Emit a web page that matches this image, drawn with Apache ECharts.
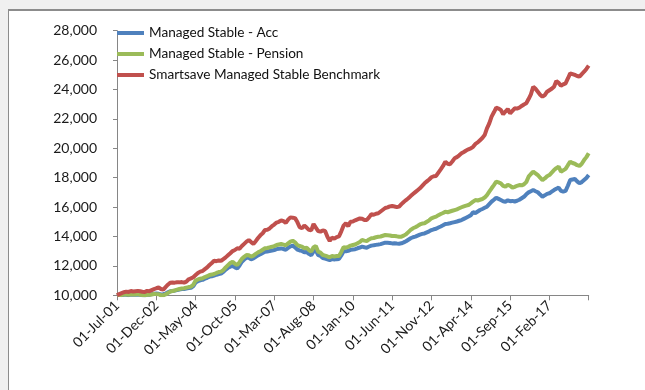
<!DOCTYPE html>
<html>
<head>
<meta charset="utf-8">
<script src="https://cdn.jsdelivr.net/npm/echarts@6/dist/echarts.min.js"></script>
<style>
  html, body { margin: 0; padding: 0; background: #f0f0f0; }
  #frame { position: absolute; left: 8px; top: 9px; width: 637px; height: 381px;
           background: #ffffff; border-left: 1px solid #8c8c8c; border-top: 2px solid #8c8c8c; }
  #chart { position: absolute; left: 0; top: 0; width: 645px; height: 390px; }
</style>
</head>
<body>
<div id="frame"></div>
<div id="chart"></div>
<script>
// Monthly index values, 01-Jul-01 to 01-Jul-18 (base 10,000)
const seriesNames = [
  'Managed Stable - Acc',
  'Managed Stable - Pension',
  'Smartsave Managed Stable Benchmark'
];

const acc = [
  10000, 10030, 10010, 10040, 10030, 10010, 10050, 10030, 10040, 10060, 10030, 10000,
  9990, 10030, 10040, 10080, 10110, 10120, 10100, 10060, 10070, 10120, 10200, 10280,
  10290, 10320, 10350, 10390, 10420, 10430, 10460, 10490, 10510, 10620, 10880, 10960,
  11020, 11050, 11130, 11190, 11270, 11300, 11340, 11400, 11450, 11480, 11590, 11750,
  11870, 11950, 11990, 11900, 11830, 12030, 12280, 12430, 12560, 12550, 12450, 12510,
  12620, 12720, 12790, 12880, 12960, 12980, 13010, 13040, 13080, 13140, 13170, 13190,
  13150, 13100, 13220, 13330, 13370, 13270, 13110, 13050, 13020, 12930, 12950, 12820,
  12730, 12990, 13060, 12730, 12680, 12540, 12500, 12450, 12400, 12460, 12440, 12460,
  12470, 12710, 13000, 12990, 13030, 13090, 13120, 13140, 13200, 13250, 13310, 13270,
  13240, 13320, 13380, 13400, 13430, 13450, 13480, 13530, 13580, 13570, 13560, 13530,
  13540, 13520, 13510, 13540, 13600, 13680, 13780, 13880, 13950, 13990, 14060, 14130,
  14180, 14210, 14280, 14350, 14440, 14490, 14530, 14610, 14680, 14760, 14850, 14870,
  14900, 14940, 14980, 15020, 15070, 15120, 15200, 15280, 15360, 15450, 15650, 15600,
  15700, 15800, 15870, 15950, 16030, 16200, 16370, 16500, 16640, 16560, 16480, 16400,
  16370, 16460, 16400, 16420, 16380, 16430, 16500, 16600, 16700, 16870, 17000, 17080,
  17160, 17080, 17010, 16850, 16710, 16800, 16900, 16940, 17050, 17160, 17250, 17320,
  17100, 17050, 17100, 17450, 17840, 17880, 17910, 17750, 17620, 17700, 17840, 17980, 18180
];

const pension = [
  10000, 10040, 10020, 10060, 10050, 10030, 10070, 10050, 10060, 10080, 10040, 10010,
  10000, 10040, 10030, 10060, 10090, 10080, 10070, 10000, 10000, 10060, 10150, 10250,
  10290, 10330, 10380, 10430, 10470, 10480, 10520, 10560, 10590, 10720, 11000, 11080,
  11130, 11160, 11240, 11300, 11380, 11410, 11450, 11520, 11580, 11610, 11720, 11900,
  12050, 12200, 12290, 12150, 12060, 12250, 12480, 12620, 12740, 12720, 12630, 12700,
  12820, 12920, 13000, 13100, 13200, 13220, 13260, 13300, 13350, 13420, 13460, 13490,
  13450, 13400, 13530, 13650, 13710, 13600, 13420, 13350, 13310, 13200, 13230, 13080,
  12970, 13270, 13350, 12970, 12900, 12740, 12700, 12640, 12590, 12670, 12640, 12670,
  12680, 12950, 13270, 13240, 13300, 13380, 13420, 13460, 13540, 13620, 13760, 13720,
  13690, 13800, 13880, 13900, 13950, 13980, 14000, 14050, 14100, 14090, 14070, 14030,
  14030, 14010, 13980, 13990, 14060, 14150, 14300, 14450, 14560, 14630, 14720, 14820,
  14880, 14900, 15000, 15100, 15240, 15300, 15350, 15450, 15530, 15600, 15690, 15650,
  15700, 15750, 15800, 15850, 15920, 15990, 16050, 16100, 16140, 16250, 16370, 16480,
  16450, 16500, 16550, 16650, 16820, 17050, 17280, 17500, 17730, 17680, 17620, 17450,
  17390, 17520, 17450, 17320, 17380, 17450, 17500, 17480, 17550, 17700, 18070, 18250,
  18410, 18300, 18180, 18000, 17840, 17950, 18100, 18180, 18350, 18520, 18650, 18750,
  18410, 18500, 18600, 18850, 19090, 19000, 18950, 18850, 18800, 18950, 19200, 19400, 19660
];

const benchmark = [
  10000, 10080, 10150, 10210, 10250, 10230, 10290, 10260, 10280, 10300, 10270, 10240,
  10220, 10300, 10280, 10350, 10420, 10480, 10530, 10430, 10380, 10560, 10720, 10850,
  10870, 10860, 10890, 10880, 10900, 10860, 10930, 11090, 11150, 11230, 11380, 11520,
  11610, 11650, 11780, 11900, 12060, 12200, 12350, 12320, 12370, 12340, 12460, 12580,
  12720, 12860, 13010, 13080, 13200, 13170, 13350, 13500, 13650, 13760, 13620, 13500,
  13680, 13900, 14080, 14220, 14440, 14460, 14550, 14700, 14810, 14950, 15000, 15100,
  15040, 14920, 15150, 15300, 15280, 15250, 14980, 14630, 14560, 14740, 14610, 14450,
  14420, 14850, 14600, 14370, 14330, 14410, 14380, 13980, 13700, 13920, 13850, 13960,
  14010, 14350, 14740, 14900, 14700, 15010, 15020, 15100, 15170, 15230, 15210, 15120,
  15120, 15300, 15510, 15480, 15550, 15580, 15700, 15820, 15940, 15980, 16050, 16080,
  16040, 16000, 16030, 16200, 16350, 16480, 16600, 16750, 16890, 17020, 17150, 17280,
  17450, 17620, 17750, 17880, 18030, 18100, 18120, 18350, 18570, 18800, 19090, 18950,
  18910, 19100, 19320, 19400, 19520, 19660, 19750, 19850, 19930, 19990, 20100, 20300,
  20400, 20550, 20700, 20900, 21360, 21700, 22150, 22450, 22760, 22700, 22610, 22310,
  22500, 22670, 22380, 22550, 22720, 22700, 22760, 22880, 22980, 23060, 23350, 23670,
  24190, 24050, 23850, 23650, 23510, 23620, 23850, 23950, 24050, 24190, 24580, 24450,
  24260, 24350, 24420, 24750, 25100, 25050, 24990, 24920, 24870, 25050, 25210, 25400, 25620
];

// Month-start dates used as categories: "01-Jul-01" ... "01-Jul-18"
const monthNames = ['Jan','Feb','Mar','Apr','May','Jun','Jul','Aug','Sep','Oct','Nov','Dec'];
const dates = [];
for (let k = 0; k < acc.length; k++) {
  const m = (6 + k) % 12;
  const y = 1 + Math.floor((6 + k) / 12);
  dates.push('01-' + monthNames[m] + '-' + String(y).padStart(2, '0'));
}

const labelStep = 17;      // one date label every 17 months
const yTicks = { min: 10000, max: 28000, interval: 2000 };
const colors = ['#4f81bd', '#9bbb59', '#c0504d'];
const font = 'Lato, Calibri, Carlito, "Open Sans", sans-serif';

const chart = echarts.init(document.getElementById('chart'), null, { renderer: 'canvas' });
chart.setOption({
  animation: false,
  backgroundColor: 'transparent',
  color: colors,
  grid: { left: 117, top: 30.7, right: 56.3, bottom: 94.7, containLabel: false },
  legend: {
    orient: 'vertical',
    left: 112,
    top: 19,
    icon: 'rect',
    itemWidth: 27,
    itemHeight: 4,
    itemGap: 3,
    textStyle: { fontFamily: font, fontSize: 13.6, color: '#111111', lineHeight: 18 },
    data: seriesNames
  },
  xAxis: {
    type: 'category',
    data: dates,
    boundaryGap: false,
    axisLine: { lineStyle: { color: '#868686', width: 1 } },
    axisTick: { show: true, interval: labelStep - 1, length: 5, lineStyle: { color: '#868686' } },
    axisLabel: {
      interval: (idx) => idx % labelStep === 0 && idx < dates.length - 1,
      rotate: 45,
      margin: 8,
      fontFamily: font,
      fontSize: 14,
      color: '#1a1a1a'
    },
    splitLine: { show: false }
  },
  yAxis: {
    type: 'value',
    min: yTicks.min,
    max: yTicks.max,
    interval: yTicks.interval,
    axisLine: { show: true, lineStyle: { color: '#868686', width: 1 } },
    axisTick: { show: true, length: 4, lineStyle: { color: '#868686' } },
    axisLabel: {
      margin: 20,
      fontFamily: font,
      fontSize: 14,
      color: '#1a1a1a',
      formatter: (v) => v.toLocaleString('en-US')
    },
    splitLine: { show: false }
  },
  series: [
    { name: seriesNames[0], type: 'line', data: acc, symbol: 'none', lineStyle: { width: 4 } },
    { name: seriesNames[1], type: 'line', data: pension, symbol: 'none', lineStyle: { width: 4 } },
    { name: seriesNames[2], type: 'line', data: benchmark, symbol: 'none', lineStyle: { width: 4 } }
  ]
});
</script>
</body>
</html>
